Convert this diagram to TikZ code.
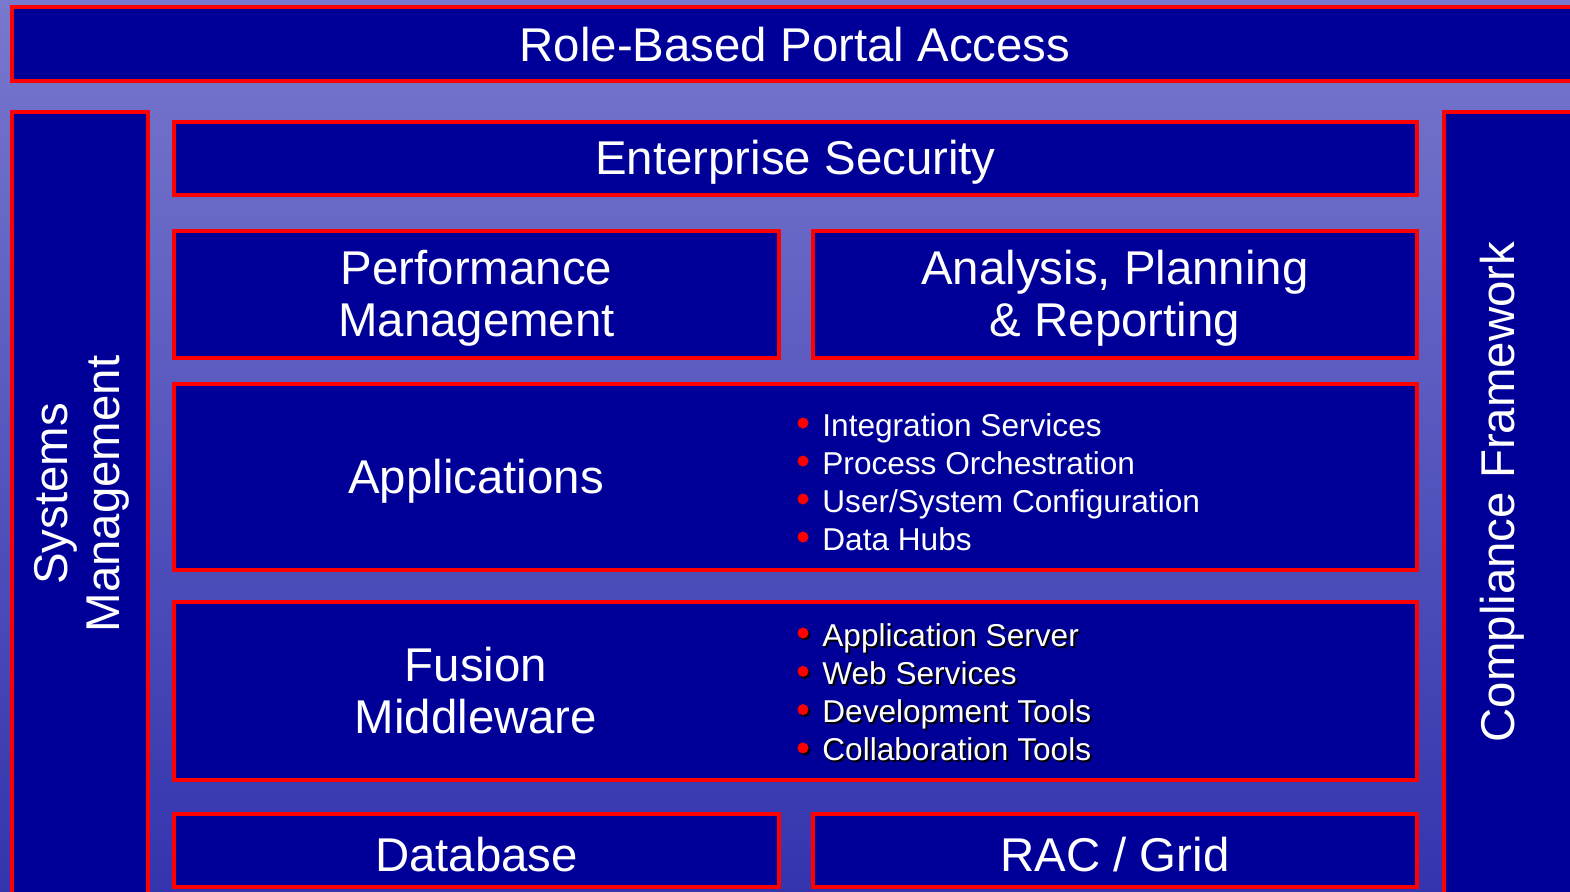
\documentclass[tikz,border=0pt]{standalone}
\usepackage{fontspec}
\setmainfont{Liberation Sans}
\definecolor{boxblue}{RGB}{0,0,153}
\definecolor{bgtop}{RGB}{120,120,206}
\definecolor{bgbot}{RGB}{52,52,174}
\begin{document}
\begin{tikzpicture}[x=0.5pt,y=-0.5pt,
  blk/.style={draw=red, fill=boxblue, line width=2pt, inner sep=0pt, outer sep=0pt},
  bigrot/.style={text=white, font=\fontsize{23.7}{26}\selectfont, align=center},
  big/.style={bigrot, yshift=-2pt},
  small/.style={text=white, font=\fontsize{15.8}{19}\selectfont, anchor=base west, inner sep=0pt},
  dot/.style={circle, fill=red, inner sep=0pt, minimum size=5.5pt},
]
\useasboundingbox (0,0) rectangle (1570,891);
\clip (0,0) rectangle (1570,891);
\shade[top color=bgtop, bottom color=bgbot] (0,0) rectangle (1570,891);

\node[blk, minimum width=783pt, minimum height=37pt] (portal) at (795,44) {};
\node[bigrot] (portaltxt) at (795,45) {Role-Based Portal Access};
\node[blk, minimum width=68pt, minimum height=443pt] (sys) at (80,555) {};
\node[blk, minimum width=77pt, minimum height=443pt] (comp) at (1521,555) {};
\node[bigrot, rotate=90] (systxt) at (82,494) {Systems\\Management};
\node[bigrot, rotate=90] (comptxt) at (1502,492) {Compliance Framework};

\node[blk, minimum width=621.5pt, minimum height=36.5pt] (sec) at (795.5,158.5) {};
\node[big] (sectxt) at (sec.center) {Enterprise Security};
\node[blk, minimum width=302.5pt, minimum height=63.5pt] (perf) at (476.5,294.5) {};
\node[big] (perftxt) at (perf.center) {Performance\\Management};
\node[blk, minimum width=302pt, minimum height=63.5pt] (anal) at (1115,294.5) {};
\node[big] (analtxt) at (anal.center) {Analysis, Planning\\\& Reporting};

\node[blk, minimum width=621.5pt, minimum height=93pt] (apps) at (795.5,477) {};
\node[big] (appstxt) at (476,477) {Applications};
\foreach \t [count=\i] in {Integration Services, Process Orchestration, User/System Configuration, Data Hubs} {
  \node[dot] (ad\i) at (803,{436+38*(\i-1)-13}) {};
  \node[small] (ab\i) at (822,{436+38*(\i-1)}) {\t};
}

\node[blk, minimum width=621.5pt, minimum height=89pt] (fus) at (795.5,691) {};
\node[big] (fustxt) at (476,687) {Fusion\\Middleware};
\foreach \t [count=\i] in {Application Server, Web Services, Development Tools, Collaboration Tools} {
  \node[dot, fill=black] (fds\i) at (805,{646+38.3*(\i-1)-11}) {};
  \node[dot] (fd\i) at (803,{646+38.3*(\i-1)-13}) {};
  \node[small, text=black] (fbs\i) at (824,{646+38.3*(\i-1)+2}) {\t};
  \node[small] (fb\i) at (822,{646+38.3*(\i-1)}) {\t};
}

\node[blk, minimum width=302.5pt, minimum height=36.5pt] (db) at (476.5,850.5) {};
\node[big] (dbtxt) at (db.center) {Database};
\node[blk, minimum width=302pt, minimum height=36.5pt] (rac) at (1115,850.5) {};
\node[big] (ractxt) at (rac.center) {RAC / Grid};
\end{tikzpicture}
\end{document}
